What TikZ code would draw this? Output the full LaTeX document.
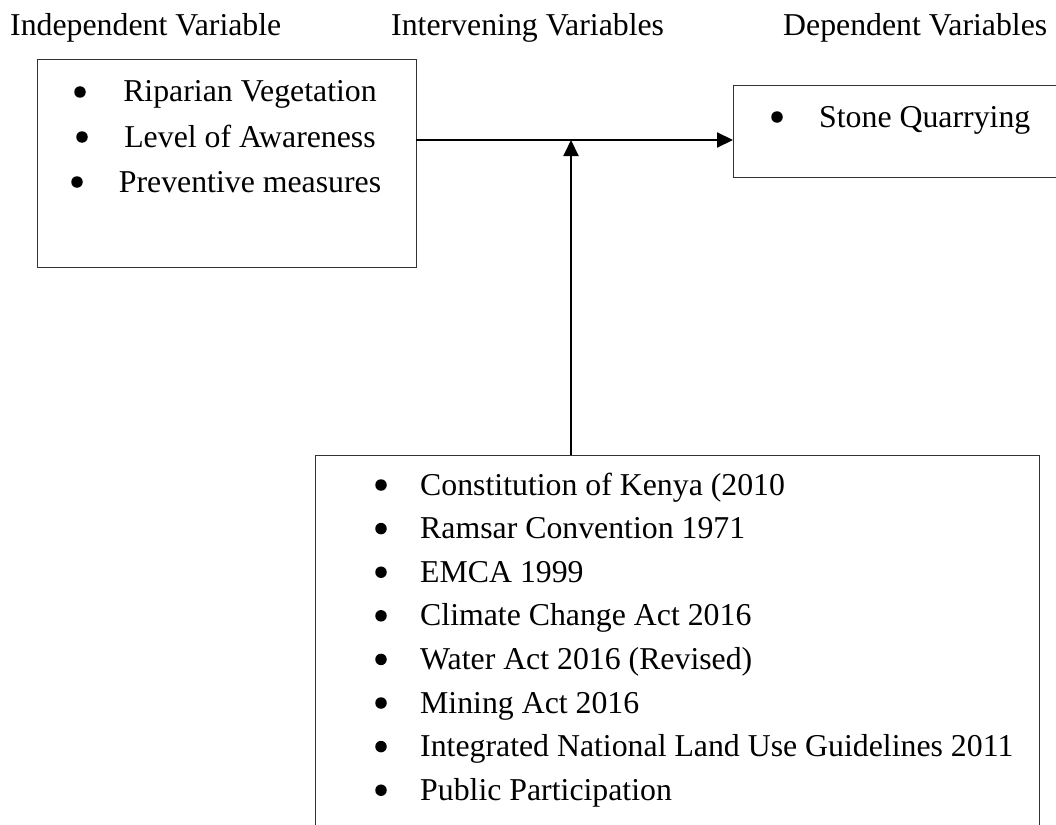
\documentclass[tikz,border=0pt]{standalone}
\usepackage{fontspec}
\setmainfont{Liberation Serif}
\usetikzlibrary{arrows.meta}
\begin{document}
\begin{tikzpicture}[x=1pt,y=-1pt,
  txt/.style={anchor=base west, inner sep=0pt, font=\fontsize{31.8}{38}\selectfont},
  ctxt/.style={txt, anchor=base},
  frame/.style={draw=black!80, line width=1.3pt, inner sep=0pt, anchor=north west},
  bul/.style={circle, fill=black, inner sep=0pt, minimum size=11.5pt},
  link/.style={line width=2pt, -{Triangle[length=16pt,width=15pt]}}]
\useasboundingbox (0,0) rectangle (1056,824);
\clip (0,0) rectangle (1056,824);

% headings
\node[txt] (h1) at (10,36) {Independent Variable};
\node[txt] (h2) at (391,36) {Intervening Variables};
\node[txt] (h3) at (783,36) {Dependent Variables};

% boxes
\node[frame, minimum width=379pt, minimum height=208pt] (lb) at (37,59) {};
\node[frame, minimum width=380pt, minimum height=92pt] (rb) at (733,85) {};
\node[frame, minimum width=724pt, minimum height=420pt] (bb) at (315,455) {};

% independent variables
\node[bul] (lb1) at (80,92) {};
\node[ctxt] (lt1) at (250,102) {Riparian Vegetation};
\node[bul] (lb2) at (82,137) {};
\node[ctxt] (lt2) at (250,147) {Level of Awareness};
\node[bul] (lb3) at (77,182) {};
\node[ctxt] (lt3) at (250,192) {Preventive measures};

% dependent variable
\node[bul] (rb1) at (777,117) {};
\node[txt] (rt1) at (819,127) {Stone Quarrying};

% intervening variables
\foreach \t [count=\i from 0] in {Constitution of Kenya (2010, Ramsar Convention 1971, EMCA 1999, Climate Change Act 2016, Water Act 2016 (Revised), Mining Act 2016, Integrated National Land Use Guidelines 2011, Public Participation}{
  \node[bul] (bbul\i) at (381,{485+43.6*\i}) {};
  \node[txt] (btxt\i) at (420,{495+43.6*\i}) {\t};
}

% connectors
\coordinate (hs) at (416,140);
\coordinate (jn) at (571,140);
\draw[link] (hs) -- (hs -| rb.west);
\draw[link] (bb.north -| jn) -- (jn);
\end{tikzpicture}
\end{document}
